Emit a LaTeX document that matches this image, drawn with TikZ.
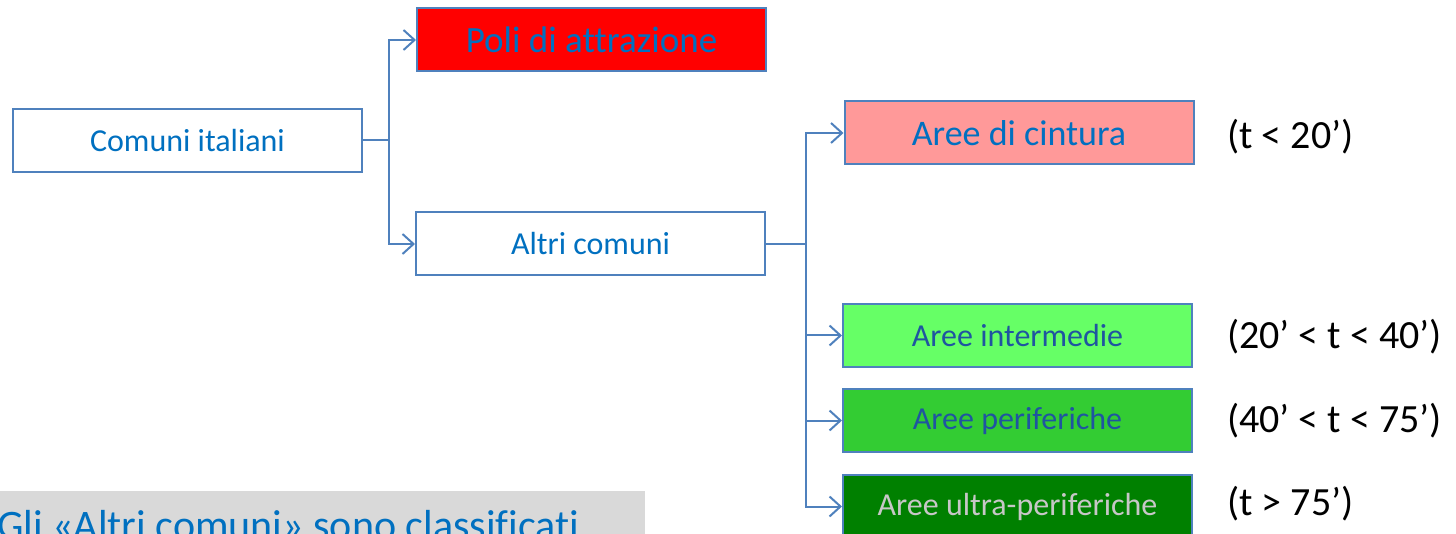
\documentclass[tikz,border=0pt]{standalone}
\usepackage{fontspec}
\setmainfont{Carlito}[Ligatures={TeX,NoCommon}]
\usetikzlibrary{arrows.meta}
\definecolor{edgeblue}{HTML}{4F81BD}
\definecolor{txtblue}{HTML}{0070C0}
\definecolor{darkblue}{HTML}{1F55A0}
\definecolor{polired}{HTML}{FF0000}
\definecolor{beltpink}{HTML}{FF9999}
\definecolor{midgreen}{HTML}{66FF66}
\definecolor{perigreen}{HTML}{33CC33}
\definecolor{ultragreen}{HTML}{008000}
\definecolor{notegray}{HTML}{D9D9D9}
\begin{document}
\begin{tikzpicture}[x=1pt,y=-1pt,
  area/.style = {draw=edgeblue, line width=2pt, rectangle, fill=white, minimum width=349pt, minimum height=63pt, inner sep=0pt, text=txtblue, font=\fontsize{32}{38}\selectfont},
  band/.style = {anchor=west, inner sep=0pt, font=\fontsize{40}{48}\selectfont},
  link/.style = {draw=edgeblue, line width=2pt, -{Straight Barb[length=11pt,width=20pt]}}]
\useasboundingbox (0,0) rectangle (1456,534);
\clip (0,0) rectangle (1456,534);

\node[area] (1) at (187.5,140.5) {Comuni italiani};
    \node[area, fill=polired, font=\fontsize{37}{44}\selectfont] (2) at (591.5,40) {Poli di attrazione};
    \node[area] (3) at (590.5,244) {Altri comuni};
    \node[area, fill=beltpink, font=\fontsize{36}{43}\selectfont] (4) at (1019,133) {Aree di cintura};
    \node[area, fill=midgreen, text=darkblue] (5) at (1017.5,335.5) {Aree intermedie};
    \node[area, fill=perigreen, text=darkblue] (6) at (1017.5,420.5) {Aree periferiche};
    \node[area, fill=ultragreen, text=black!22] (7) at (1017.5,506.5) {Aree ultra-periferiche};

    \node[band] (t4) at (1227,137) {(t < 20’)};
    \node[band] (t5) at (1227,337) {(20’ < t < 40’)};
    \node[band] (t6) at (1227,421) {(40’ < t < 75’)};
    \node[band] (t7) at (1227,504) {(t > 75’)};

    \draw [link] (1.east) -- ++(26,0) |- (2);
    \draw [link] (1.east) -- ++(26,0) |- (3);
    \draw [link] (3.east) -- ++(40,0) |- (4);
    \draw [link] (3.east) -- ++(40,0) |- (5);
    \draw [link] (3.east) -- ++(40,0) |- (6);
    \draw [link] (3.east) -- ++(40,0) |- (7);

    \fill[notegray] (0,491) rectangle (645,545);
    \node[anchor=base west, inner sep=0pt, text=txtblue, font=\fontsize{42}{50}\selectfont] (note) at (-3,539) {Gli «Altri comuni» sono classificati};

\end{tikzpicture}
\end{document}
